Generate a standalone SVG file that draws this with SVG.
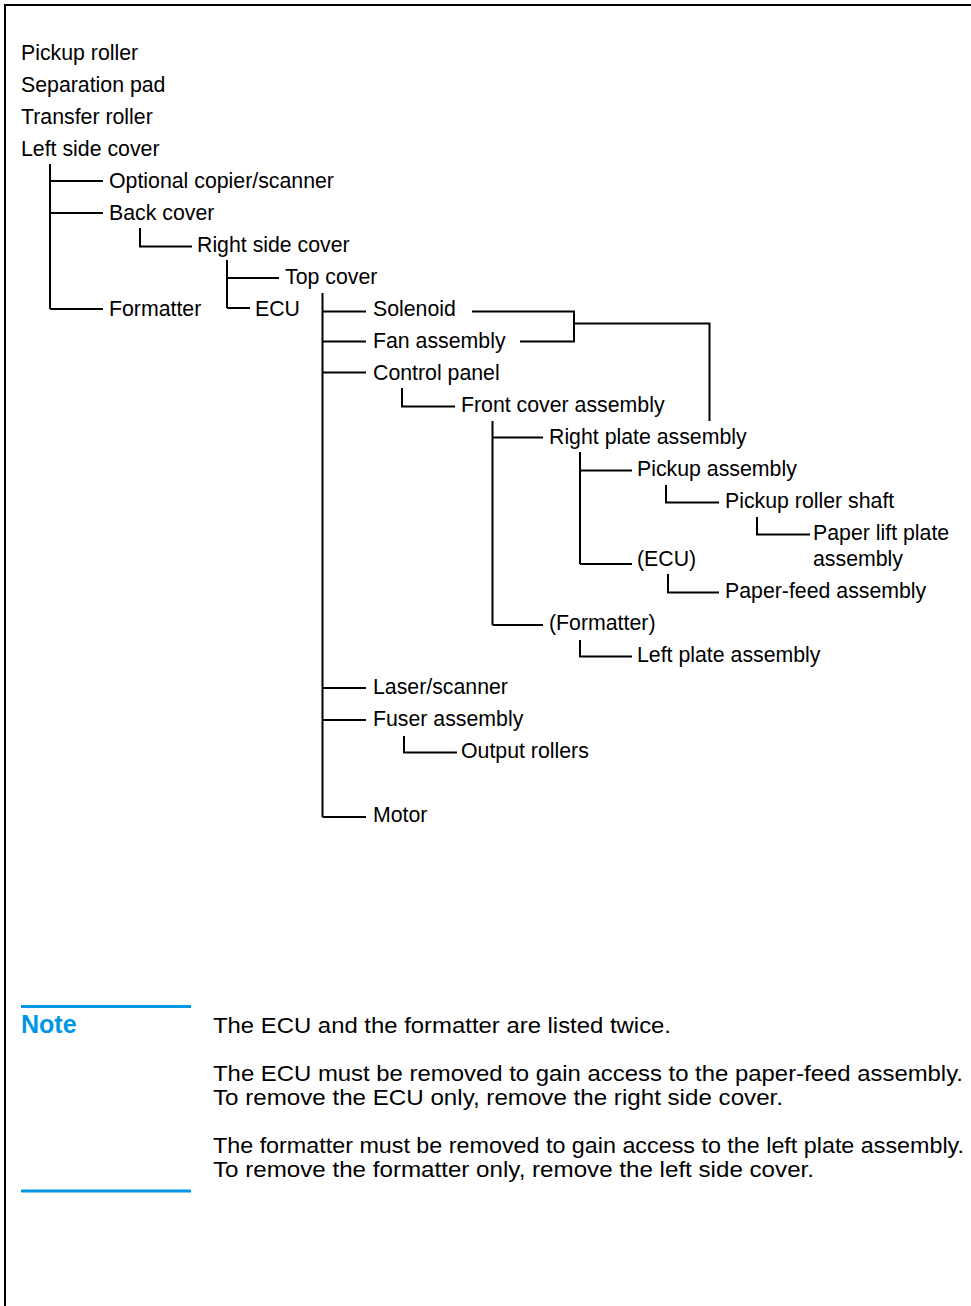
<svg xmlns="http://www.w3.org/2000/svg" width="971" height="1306" viewBox="0 0 971 1306">
<style>
.t{font-family:"Liberation Sans",Arial,sans-serif;font-size:21.3px;fill:#000}
.n{font-family:"Liberation Sans",Arial,sans-serif;font-size:22.5px;fill:#000}
.nh{font-family:"Liberation Sans",Arial,sans-serif;font-size:25px;font-weight:bold;fill:#0096E6}
.c{fill:none;stroke:#000;stroke-width:2}
.b{fill:none;stroke:#0096E6;stroke-width:3}
</style>
<rect width="971" height="1306" fill="#fff"/>
<g id="frame">
<path class="c" d="M5 1306 V5 H971"/>
</g>
<g id="connectors">
<path class="c" d="M50 164 V309 M50 181 H103 M50 213 H103 M50 309 H103"/>
<path class="c" d="M140 228 V246.5 H192"/>
<path class="c" d="M227 260 V308 M227 278 H279 M227 308 H250"/>
<path class="c" d="M322.5 293 V817 M322.5 311.5 H366 M322.5 341.5 H366 M322.5 372.5 H366 M322.5 688 H366 M322.5 720 H366 M322.5 817 H366"/>
<path class="c" d="M472 311.5 H574 V341.5 H520 M574 323.5 H709.5 V421"/>
<path class="c" d="M402 388 V406.5 H455"/>
<path class="c" d="M492.5 421 V625 M492.5 437.5 H543 M492.5 625 H543"/>
<path class="c" d="M580 452 V564 M580 470.5 H632 M580 564 H632"/>
<path class="c" d="M666 485 V502.5 H719"/>
<path class="c" d="M757 517 V534.5 H810"/>
<path class="c" d="M668 574 V592.5 H719"/>
<path class="c" d="M580 640 V656.5 H632"/>
<path class="c" d="M404 736 V752.5 H457"/>
</g>
<g id="n-pickup-roller"><text class="t" x="21" y="60">Pickup roller</text></g>
<g id="n-separation-pad"><text class="t" x="21" y="92">Separation pad</text></g>
<g id="n-transfer-roller"><text class="t" x="21" y="124">Transfer roller</text></g>
<g id="n-left-side-cover"><text class="t" x="21" y="156">Left side cover</text></g>
<g id="n-optional-copier"><text class="t" x="109" y="188">Optional copier/scanner</text></g>
<g id="n-back-cover"><text class="t" x="109" y="220">Back cover</text></g>
<g id="n-right-side-cover"><text class="t" x="197" y="252">Right side cover</text></g>
<g id="n-top-cover"><text class="t" x="285" y="284">Top cover</text></g>
<g id="n-formatter"><text class="t" x="109" y="316">Formatter</text></g>
<g id="n-ecu"><text class="t" x="255" y="316">ECU</text></g>
<g id="n-solenoid"><text class="t" x="373" y="316">Solenoid</text></g>
<g id="n-fan-assembly"><text class="t" x="373" y="348">Fan assembly</text></g>
<g id="n-control-panel"><text class="t" x="373" y="380">Control panel</text></g>
<g id="n-front-cover"><text class="t" x="461" y="412">Front cover assembly</text></g>
<g id="n-right-plate"><text class="t" x="549" y="444">Right plate assembly</text></g>
<g id="n-pickup-assembly"><text class="t" x="637" y="476">Pickup assembly</text></g>
<g id="n-pickup-roller-shaft"><text class="t" x="725" y="508">Pickup roller shaft</text></g>
<g id="n-paper-lift"><text class="t" x="813" y="540">Paper lift plate</text><text class="t" x="813" y="566">assembly</text></g>
<g id="n-ecu2"><text class="t" x="637" y="566">(ECU)</text></g>
<g id="n-paper-feed"><text class="t" x="725" y="598">Paper-feed assembly</text></g>
<g id="n-formatter2"><text class="t" x="549" y="630">(Formatter)</text></g>
<g id="n-left-plate"><text class="t" x="637" y="662">Left plate assembly</text></g>
<g id="n-laser"><text class="t" x="373" y="694">Laser/scanner</text></g>
<g id="n-fuser"><text class="t" x="373" y="726">Fuser assembly</text></g>
<g id="n-output-rollers"><text class="t" x="461" y="758">Output rollers</text></g>
<g id="n-motor"><text class="t" x="373" y="822">Motor</text></g>
<g id="note">
<path class="b" d="M21 1006.5 H191 M21 1191 H191"/>
<text class="nh" x="21" y="1033">Note</text>
<text class="n" x="213" y="1033" textLength="458" lengthAdjust="spacingAndGlyphs">The ECU and the formatter are listed twice.</text>
<text class="n" x="213" y="1081" textLength="750" lengthAdjust="spacingAndGlyphs">The ECU must be removed to gain access to the paper-feed assembly.</text>
<text class="n" x="213" y="1105" textLength="570" lengthAdjust="spacingAndGlyphs">To remove the ECU only, remove the right side cover.</text>
<text class="n" x="213" y="1153" textLength="751" lengthAdjust="spacingAndGlyphs">The formatter must be removed to gain access to the left plate assembly.</text>
<text class="n" x="213" y="1177" textLength="601" lengthAdjust="spacingAndGlyphs">To remove the formatter only, remove the left side cover.</text>
</g>
</svg>
